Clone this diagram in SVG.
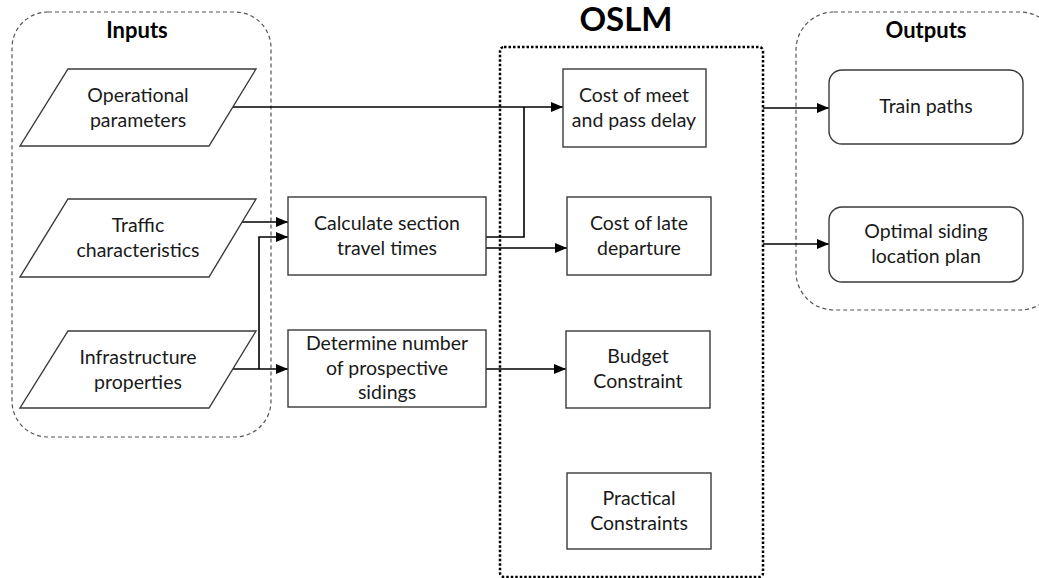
<svg xmlns="http://www.w3.org/2000/svg" width="1039" height="578" viewBox="0 0 1039 578">
<defs>
<style>
.txt{font-family:Lato,"Open Sans","Liberation Sans",sans-serif;font-size:19.5px;fill:#1a1a1a;text-anchor:middle}
.ttl{font-family:Lato,"Open Sans","Liberation Sans",sans-serif;font-weight:bold;fill:#000;text-anchor:middle}
.cont{fill:none;stroke:#555;stroke-width:1.2;stroke-dasharray:4 3}
.box{fill:#fff;stroke:#3a3a3a;stroke-width:1.4}
.conn{fill:none;stroke:#000;stroke-width:1.6}
</style>
<marker id="arr" viewBox="0 0 12 10" refX="12" refY="5" markerWidth="12" markerHeight="10" markerUnits="userSpaceOnUse" orient="auto">
<path d="M0,0 L12,5 L0,10 z" fill="#000"/>
</marker>
</defs>
<rect width="1039" height="578" fill="#fff"/>

<g id="inputs-container">
<rect class="cont" x="12" y="12" width="259" height="425" rx="36"/>
<text class="ttl" x="137" y="38" font-size="22">Inputs</text>
</g>
<g id="oslm-container">
<rect x="500" y="47" width="263" height="530" rx="4" fill="none" stroke="#000" stroke-width="2.5" stroke-dasharray="2.5 2"/>
<text class="ttl" x="626" y="31" font-size="33">OSLM</text>
</g>
<g id="outputs-container">
<rect class="cont" x="796" y="12" width="262" height="298" rx="38"/>
<text class="ttl" x="926" y="38" font-size="22">Outputs</text>
</g>

<g id="connectors">
<path class="conn" d="M233,107 H563" marker-end="url(#arr)"/>
<path class="conn" d="M486,237 H524 V107"/>
<path class="conn" d="M486,248 H567" marker-end="url(#arr)"/>
<path class="conn" d="M242,222 H288" marker-end="url(#arr)"/>
<path class="conn" d="M233,369 H288" marker-end="url(#arr)"/>
<path class="conn" d="M259,369 V237 H288" marker-end="url(#arr)"/>
<path class="conn" d="M486,369 H566" marker-end="url(#arr)"/>
<path class="conn" d="M763,108 H829" marker-end="url(#arr)"/>
<path class="conn" d="M763,244 H829" marker-end="url(#arr)"/>
</g>

<g id="operational-parameters">
<polygon class="box" points="68,69 256,69 209,146 20,146"/>
<text class="txt" x="138" y="102">Operational</text>
<text class="txt" x="138" y="127">parameters</text>
</g>
<g id="traffic-characteristics">
<polygon class="box" points="68,199 256,199 209,277 20,277"/>
<text class="txt" x="138" y="232">Traffic</text>
<text class="txt" x="138" y="257">characteristics</text>
</g>
<g id="infrastructure-properties">
<polygon class="box" points="68,331 256,331 209,408 20,408"/>
<text class="txt" x="138" y="364">Infrastructure</text>
<text class="txt" x="138" y="389">properties</text>
</g>
<g id="calculate-section">
<rect class="box" x="288" y="197" width="198" height="78"/>
<text class="txt" x="387" y="230">Calculate section</text>
<text class="txt" x="387" y="255">travel times</text>
</g>
<g id="determine-number">
<rect class="box" x="288" y="330" width="198" height="77"/>
<text class="txt" x="387" y="350">Determine number</text>
<text class="txt" x="387" y="375">of prospective</text>
<text class="txt" x="387" y="399">sidings</text>
</g>
<g id="cost-meet-pass">
<rect class="box" x="563" y="69" width="143" height="78"/>
<text class="txt" x="634" y="102">Cost of meet</text>
<text class="txt" x="634" y="127">and pass delay</text>
</g>
<g id="cost-late-departure">
<rect class="box" x="567" y="197" width="144" height="78"/>
<text class="txt" x="639" y="230">Cost of late</text>
<text class="txt" x="639" y="255">departure</text>
</g>
<g id="budget-constraint">
<rect class="box" x="566" y="331" width="144" height="77"/>
<text class="txt" x="638" y="363">Budget</text>
<text class="txt" x="638" y="388">Constraint</text>
</g>
<g id="practical-constraints">
<rect class="box" x="567" y="473" width="144" height="76"/>
<text class="txt" x="639" y="505">Practical</text>
<text class="txt" x="639" y="530">Constraints</text>
</g>
<g id="train-paths">
<rect class="box" x="829" y="70" width="194" height="74" rx="13"/>
<text class="txt" x="926" y="113">Train paths</text>
</g>
<g id="optimal-siding">
<rect class="box" x="829" y="207" width="194" height="75" rx="13"/>
<text class="txt" x="926" y="238">Optimal siding</text>
<text class="txt" x="926" y="263">location plan</text>
</g>
</svg>
